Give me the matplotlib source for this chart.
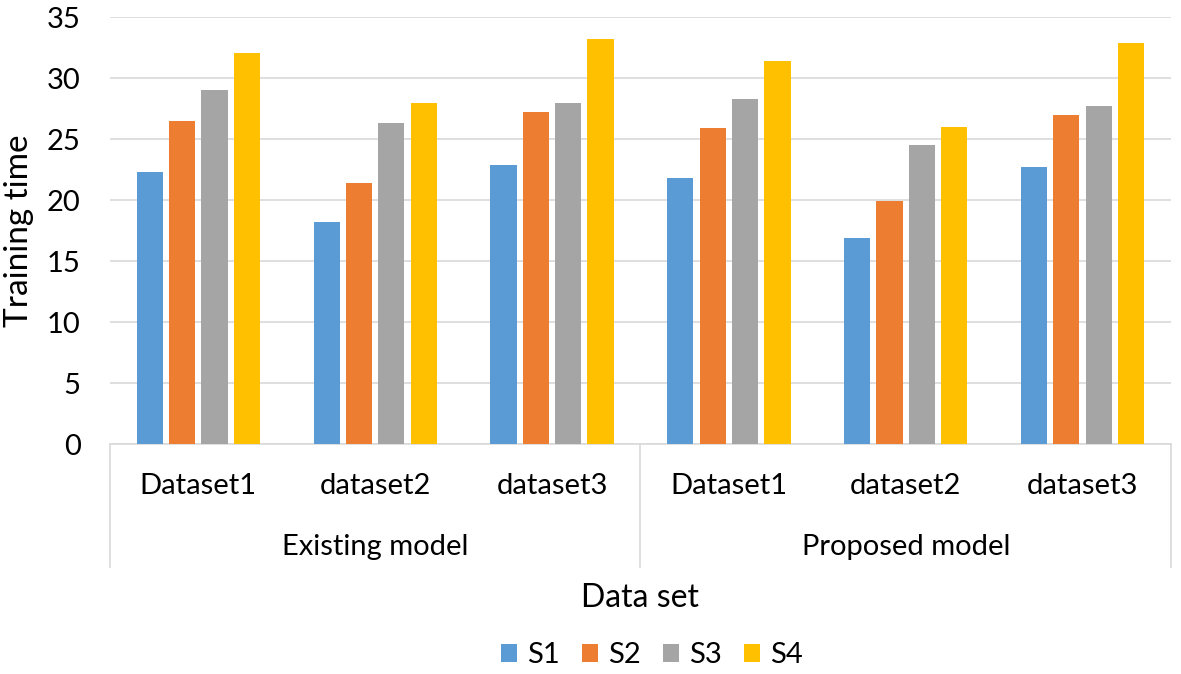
import matplotlib.pyplot as plt
import numpy as np

plt.rcParams['font.family'] = ['Lato', 'DejaVu Sans']

datasets = ['Dataset1', 'dataset2', 'dataset3', 'Dataset1', 'dataset2', 'dataset3']
models = ['Existing model', 'Proposed model']
series = ['S1', 'S2', 'S3', 'S4']

s1 = [22.3, 18.2, 22.9, 21.8, 16.9, 22.7]
s2 = [26.5, 21.4, 27.2, 25.9, 19.9, 27.0]
s3 = [29.0, 26.3, 28.0, 28.3, 24.5, 27.7]
s4 = [32.1, 28.0, 33.2, 31.4, 26.0, 32.9]

colors = ['#5B9BD5', '#ED7D31', '#A5A5A5', '#FFC000']

fig = plt.figure(figsize=(11.81, 6.74), dpi=100)
ax = fig.add_axes([0.0931, 0.3412, 0.8984, 0.6331])

x = np.arange(len(datasets))
pitch = 0.183
width = 0.148
for i, (vals, name) in enumerate(zip([s1, s2, s3, s4], series)):
    ax.bar(x + (i - 1.5) * pitch, vals, width, color=colors[i], label=name, zorder=3)

ax.set_xlim(-0.5, 5.5)
ax.set_ylim(0, 35)
ax.set_yticks(range(0, 36, 5))
ax.yaxis.grid(True, color='#D9D9D9', linewidth=1.2, zorder=0)
ax.tick_params(axis='y', length=0, labelsize=21, pad=21)
for sp in ['top', 'right', 'left']:
    ax.spines[sp].set_visible(False)
ax.spines['bottom'].set_color('#D9D9D9')
ax.spines['bottom'].set_linewidth(1.2)

ax.set_xticks(x)
ax.set_xticklabels(datasets, fontsize=21)
ax.tick_params(axis='x', length=0, pad=21)

trans = ax.get_xaxis_transform()
for xs in [-0.5, 2.5, 5.5]:
    ax.plot([xs, xs], [0, -0.288], transform=trans, color='#D9D9D9',
            linewidth=1.2, clip_on=False)
ax.text(1, -0.241, models[0], transform=trans, ha='center', va='center', fontsize=21)
ax.text(4, -0.241, models[1], transform=trans, ha='center', va='center', fontsize=21)
ax.text(0.5, -0.36, 'Data set', transform=ax.transAxes, ha='center', va='center', fontsize=23)

ax.set_ylabel('Training time', fontsize=24)
ax.yaxis.set_label_coords(-0.072, 0.5)

fig.legend(loc='center', bbox_to_anchor=(0.552, 0.028), ncol=4, frameon=False,
           fontsize=21, handlelength=0.55, handleheight=0.55, handletextpad=0.35,
           columnspacing=0.75)

fig.savefig('out.png', dpi=100)
